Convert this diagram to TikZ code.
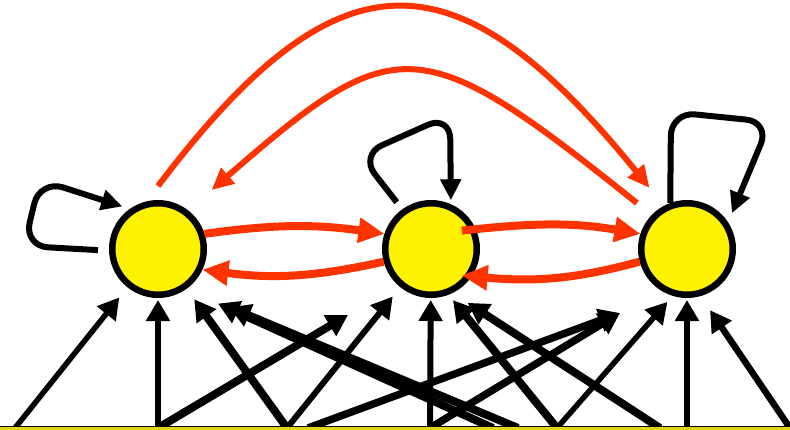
\documentclass[tikz,border=0pt]{standalone}
\usepackage{xcolor}
\usepackage{tikz}
\usetikzlibrary{positioning, arrows.meta}

\definecolor{recred}{HTML}{FF3300}

\begin{document}
\begin{tikzpicture}[x=1pt, y=-1pt,
    unit/.style={circle, draw=black, fill=yellow, line width=6.5pt, minimum size=91.5pt, inner sep=0pt},
    wire/.style={black, line width=5.5pt, -{Triangle[length=21pt,width=23pt]}},
    heavy/.style={wire, line width=8pt},
    selfloop/.style={black, line width=6pt, rounded corners=24pt, -{Triangle[length=21pt,width=20pt]}},
    recur/.style={recred, line width=8pt, -{Triangle[length=26pt,width=24pt]}},
    longrec/.style={recred, line width=6pt, -{Triangle[length=22pt,width=20pt]}}]
        \useasboundingbox (0,0) rectangle (790,429);

        % Hidden units
        \node[unit] (h1) at (158,249) {};
        \node[unit] (h2) at (431,249) {};
        \node[unit] (h3) at (687,249) {};

        % Feeds along the bottom edge
        \coordinate (b1) at (15,428);
        \coordinate (b2) at (158,428);
        \coordinate (b3) at (287,428);
        \coordinate (b4) at (308,428);
        \coordinate (b5) at (430,428);
        \coordinate (b6) at (493,428);
        \coordinate (b7) at (518,428);
        \coordinate (b8) at (557,428);
        \coordinate (b9) at (660,428);
        \coordinate (b10) at (687,428);
        \coordinate (b11) at (790,428);
        \coordinate (stub1) at (348,315);
        \coordinate (stub2) at (620,313);

        % Into the first unit
        \draw[wire, shorten >=13pt] (b1) -- (h1);
        \draw[wire, line width=6pt, shorten >=2pt] (b2) -- (h1);
        \draw[heavy, shorten >=13pt] (b3) -- (h1);
        \draw[heavy, shorten >=35pt] (b6) -- (h1.-55);
        \draw[heavy, shorten >=47pt] (b7) -- (h1.-55);

        % Into the second unit
        \draw[wire, line width=6pt, shorten >=12pt] (b3) -- (h2);
        \draw[wire, line width=6pt, shorten >=2pt] (b5) -- (h2);
        \draw[heavy, shorten >=7pt] (b8) -- (h2.-69);
        \draw[heavy, shorten >=18pt] (b9) -- (h2.-64);

        % Into the third unit
        \draw[wire, shorten >=8pt] (b8) -- (h3.-107);
        \draw[wire, line width=6pt, shorten >=2pt] (b10) -- (h3);
        \draw[wire, line width=6.5pt, shorten >=17pt] (b11) -- (h3.-74);

        % Short ones
        \draw[heavy] (b2) -- (stub1);
        \draw[heavy, line width=7.5pt] (b4) -- (stub2);
        \draw[heavy, line width=7.5pt] (b5) -- (stub2);

        % Self loops
        \draw[selfloop, shorten <=11pt, shorten >=8pt] (h1.182) -- (24,246) -- (40,180) -- (h1.125);
        \draw[selfloop, shorten <=9pt, shorten >=4pt] (h2.126) -- (360,155) -- (450,115) -- (h2.66);
        \draw[selfloop, shorten >=10pt] (h3.110) -- (671,112) -- (770,122) -- (h3.33);

        % Recurrent links between neighbours
        \draw[recur] (h1.18) to[bend left=8] (h2.162);
        \draw[recur] (h2.195) to[bend left=10] (h1.-25);
        \draw[recur, shorten <=-14pt] (h2.24) to[bend left=8] (h3.162);
        \draw[recur, shorten >=-10pt] (h3.195) to[bend left=10] (h2.-34);

        % Long links over the top
        \coordinate[above=14pt of h1] (h1top);
        \draw[longrec, shorten >=23pt] (h1top) .. controls +(180,-238) and +(-209,-258) .. (h3.118);
        \draw[longrec, shorten <=19pt, shorten >=31pt] (h3.136) .. controls +(-232,-186) and +(208,-181) .. (h1.52);

        % Bottom strip
        \fill[yellow!85!black] (0,427) rectangle (790,432);
        \draw[line width=1pt] (0,426.5) -- (790,426.5);
      \end{tikzpicture}
\end{document}
